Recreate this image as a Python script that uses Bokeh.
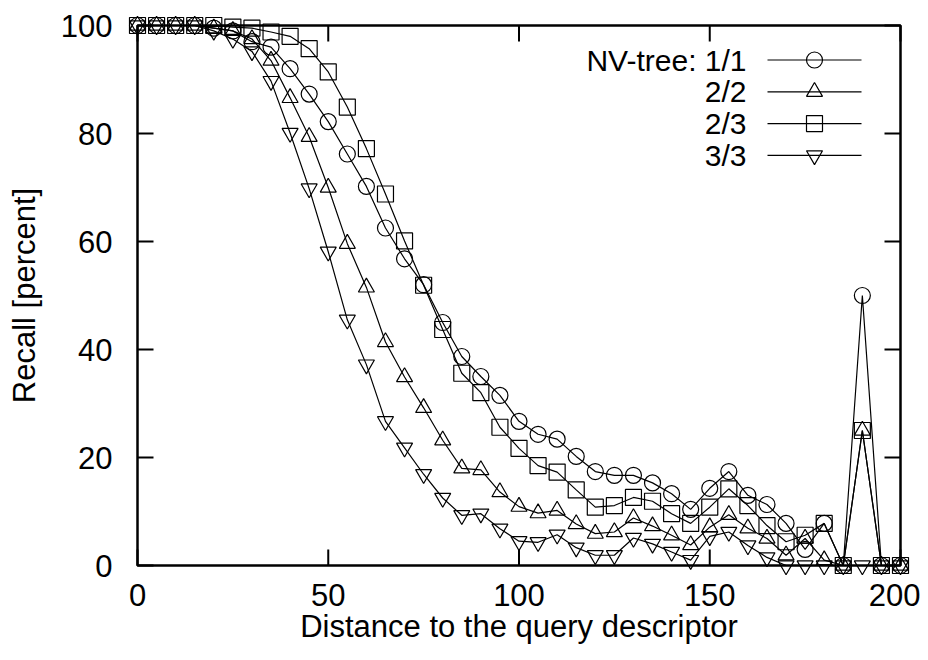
from bokeh.plotting import figure
from bokeh.models import Range1d, FixedTicker
from bokeh.embed import file_html
from bokeh.resources import INLINE
from bokeh.core.properties import value

# ---------------- data ----------------
distance = list(range(0, 205, 5))

recall_11 = [100, 100, 100, 100, 99.5, 99, 97, 96, 92, 87.3, 82.2, 76.2, 70.2, 62.5,
             56.8, 52, 45, 38.7, 35, 31.5, 26.7, 24.3, 23.4, 20.2, 17.4, 16.7, 16.7,
             15.3, 13.3, 10.4, 14.3, 17.4, 13, 11.3, 7.8, 3, 7.8, 0, 50, 0, 0]
recall_22 = [100, 100, 100, 100, 99.5, 99, 97.5, 93.5, 86.6, 79.4, 70, 59.6, 51.5, 41.4,
             34.9, 29.2, 23.2, 18, 17.7, 13.6, 10.9, 9.7, 10.2, 7.7, 5.9, 6.2, 8.8,
             7.3, 5.6, 3.8, 7.1, 9.4, 6.9, 5, 1.9, 5, 1, 0, 25, 0, 0]
recall_23 = [100, 100, 100, 100, 100, 99.7, 99.5, 98.8, 98, 95.7, 91.4, 84.9, 77.2, 68.8,
             60.1, 51.9, 43.7, 35.6, 32, 25.6, 21.7, 18.5, 17.3, 14, 10.8, 11.1, 12.6,
             11.9, 9.6, 7.8, 10.8, 14.2, 11.1, 7.4, 4.4, 5.6, 7.8, 0, 25, 0, 0]
recall_33 = [100, 100, 100, 100, 99, 97.5, 95.2, 89.7, 80.1, 69.8, 58.1, 45.5, 37.2, 26.7,
             21.8, 16.9, 12.5, 9.3, 9.6, 6.8, 4.5, 4.3, 5.7, 3.3, 1.9, 1.9, 5.1,
             4, 2.5, 1, 5.4, 6.2, 3.7, 1.5, 0, 0, 0, 0, 0, 0, 0]

series_labels = ["NV-tree: 1/1", "2/2", "2/3", "3/3"]
series_markers = ["circle", "triangle", "square", "inverted_triangle"]
series_values = [recall_11, recall_22, recall_23, recall_33]

x_ticks = [0, 50, 100, 150, 200]
y_ticks = [0, 20, 40, 60, 80, 100]

# ---------------- style / layout ----------------
FONT = "Liberation Sans"
FS = "31px"
LEG_FS = "30px"
X_MIN, X_MAX, Y_MIN, Y_MAX = 0, 200, 0, 100
PX_X = 763 / 200.0          # pixels per x unit
PX_Y = 540 / 100.0          # pixels per y unit
PAD = 10                    # px padding between frame and border
TICK = 16                   # tick length in px
MSIZE = 16

p = figure(width=920, height=652,
           x_range=Range1d(X_MIN - PAD / PX_X, X_MAX + PAD / PX_X),
           y_range=Range1d(Y_MIN - PAD / PX_Y, Y_MAX + PAD / PX_Y),
           output_backend="svg", toolbar_location=None,
           min_border_left=127, min_border_right=10,
           min_border_top=15, min_border_bottom=77)
p.outline_line_color = None
p.grid.visible = False
p.background_fill_color = "white"
p.border_fill_color = "white"

for ax in (p.xaxis[0], p.yaxis[0]):
    ax.axis_line_color = None
    ax.major_tick_line_color = None
    ax.minor_tick_line_color = None
    ax.major_label_text_font = FONT
    ax.major_label_text_font_size = FS
    ax.major_label_text_color = "black"
    ax.axis_label_text_font = FONT
    ax.axis_label_text_font_size = FS
    ax.axis_label_text_font_style = "normal"
    ax.axis_label_text_color = "black"

p.xaxis[0].ticker = FixedTicker(ticks=x_ticks)
p.yaxis[0].ticker = FixedTicker(ticks=y_ticks)
p.xaxis[0].axis_label = "Distance to the query descriptor"
p.yaxis[0].axis_label = "Recall [percent]"
p.xaxis[0].major_label_standoff = 2
p.yaxis[0].major_label_standoff = 9
p.xaxis[0].axis_label_standoff = 0
p.yaxis[0].axis_label_standoff = 16

# border box
p.quad(left=[X_MIN], right=[X_MAX], bottom=[Y_MIN], top=[Y_MAX],
       fill_alpha=0, line_color="black", line_width=2.5)

# inward ticks on all four sides
tx = TICK / PX_X
ty = TICK / PX_Y
p.segment(x0=x_ticks, x1=x_ticks, y0=[Y_MIN] * len(x_ticks), y1=[Y_MIN + ty] * len(x_ticks),
          line_color="black", line_width=2)
p.segment(x0=x_ticks, x1=x_ticks, y0=[Y_MAX] * len(x_ticks), y1=[Y_MAX - ty] * len(x_ticks),
          line_color="black", line_width=2)
p.segment(x0=[X_MIN] * len(y_ticks), x1=[X_MIN + tx] * len(y_ticks), y0=y_ticks, y1=y_ticks,
          line_color="black", line_width=2)
p.segment(x0=[X_MAX] * len(y_ticks), x1=[X_MAX - tx] * len(y_ticks), y0=y_ticks, y1=y_ticks,
          line_color="black", line_width=2)

# series
for vals, mk in zip(series_values, series_markers):
    p.line(distance, vals, line_color="black", line_width=1.2)
    p.scatter(distance, vals, marker=mk, size=MSIZE, fill_alpha=0,
              line_color="black", line_width=1.2)

# legend (label left, sample right)
LEG_TEXT_X = (746 - 137) / PX_X
LEG_X0 = (767 - 137) / PX_X
LEG_X1 = (861 - 137) / PX_X
LEG_XM = (814 - 137) / PX_X
LEG_ROW0 = (565 - 59.5) / PX_Y
LEG_DY = 31.8 / PX_Y
leg_y = [LEG_ROW0 - i * LEG_DY for i in range(len(series_labels))]

p.text(x=[LEG_TEXT_X] * len(series_labels), y=leg_y, text=series_labels,
       text_align="right", text_baseline="middle",
       text_font=value(FONT), text_font_size=LEG_FS, text_color="black")
p.segment(x0=[LEG_X0] * len(leg_y), x1=[LEG_X1] * len(leg_y), y0=leg_y, y1=leg_y,
          line_color="black", line_width=1.2)
for yy, mk in zip(leg_y, series_markers):
    p.scatter([LEG_XM], [yy], marker=mk, size=MSIZE, fill_alpha=0,
              line_color="black", line_width=1.2)

open("out.html", "w").write(file_html(p, INLINE))
